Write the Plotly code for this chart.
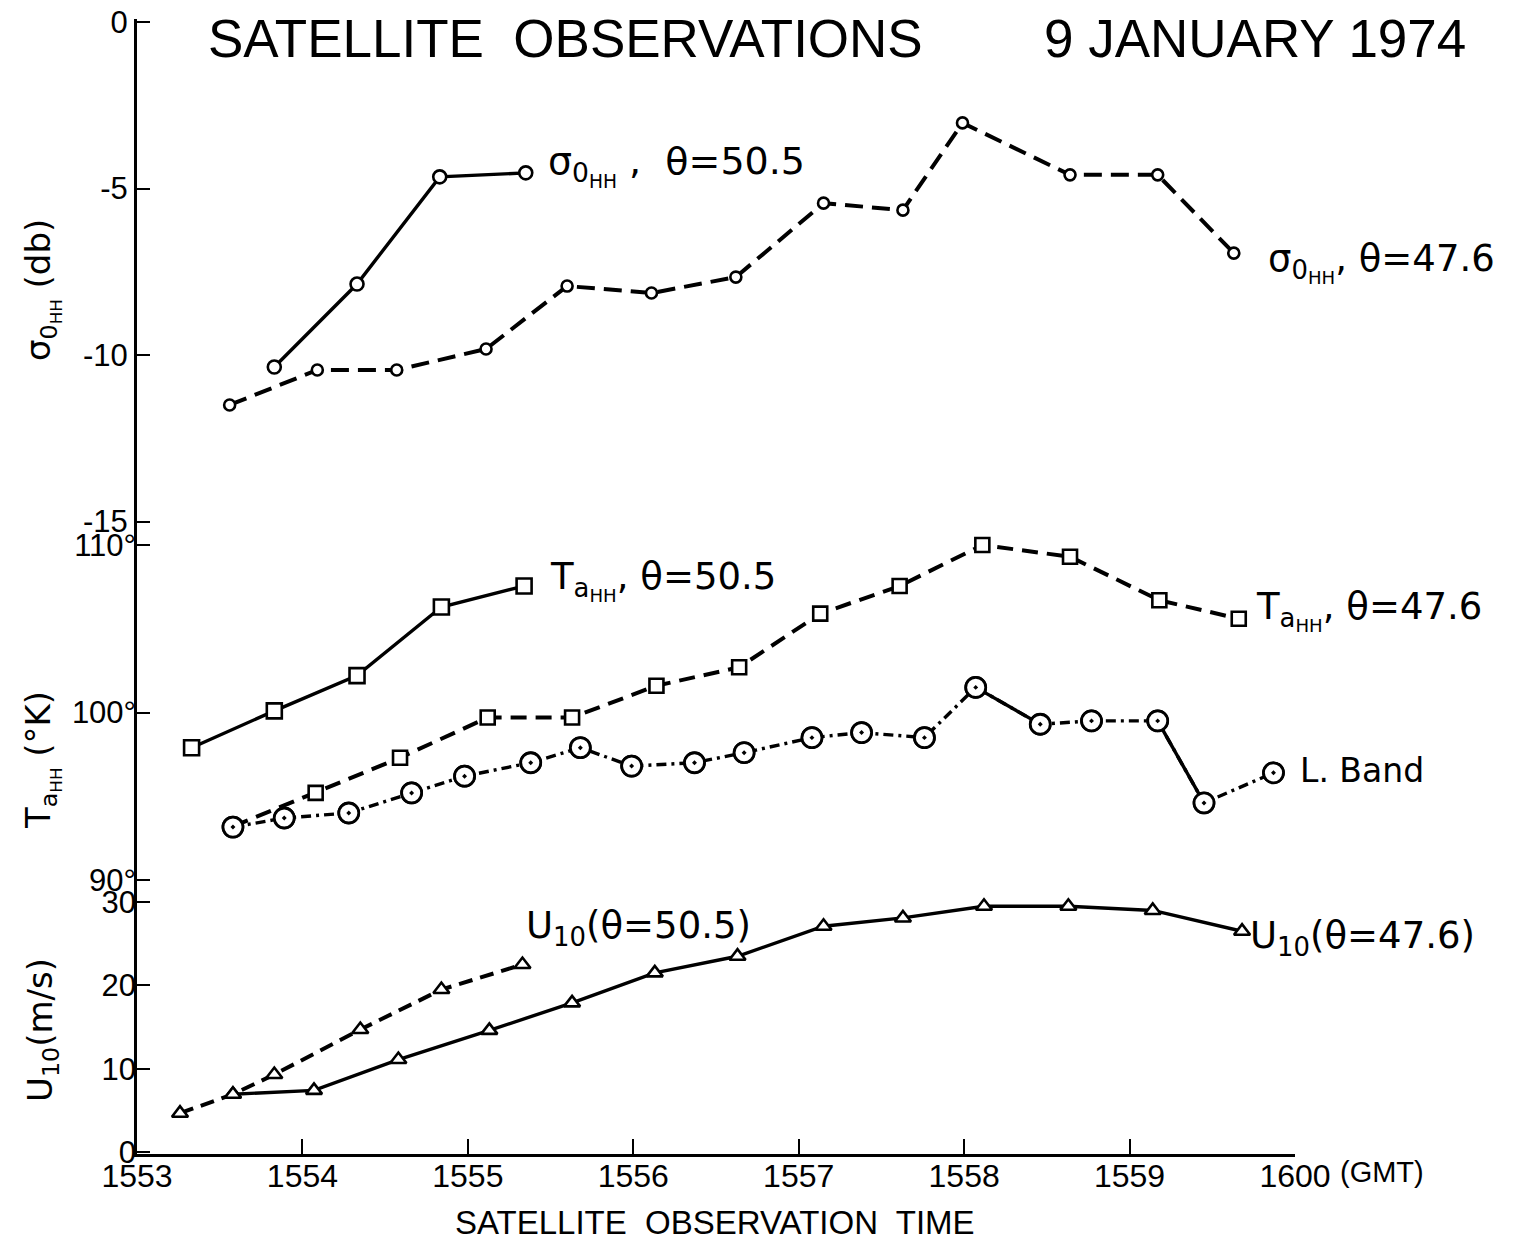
import plotly.graph_objects as go

# ---------------- data (minutes after 15:53 GMT) ----------------
tick_vals = [0, 1, 2, 3, 4, 5, 6, 7]
tick_text = ["1553", "1554", "1555", "1556", "1557", "1558", "1559", "1600"]

sig505_t = [0.83, 1.33, 1.83, 2.35]
sig505_v = [-10.36, -7.87, -4.65, -4.53]

sig476_t = [0.56, 1.09, 1.57, 2.11, 2.60, 3.11, 3.62, 4.15, 4.63, 4.99, 5.64, 6.17, 6.63]
sig476_v = [-11.5, -10.45, -10.45, -9.82, -7.93, -8.14, -7.66, -5.44, -5.65, -3.03, -4.59, -4.59, -6.94]

ta505_t = [0.33, 0.83, 1.33, 1.84, 2.34]
ta505_v = [97.9, 100.1, 102.2, 106.3, 107.55]

ta476_t = [0.58, 1.08, 1.59, 2.12, 2.63, 3.14, 3.64, 4.13, 4.61, 5.11, 5.64, 6.18, 6.66]
ta476_v = [93.2, 95.2, 97.3, 99.7, 99.7, 101.6, 102.7, 105.9, 107.55, 110.0, 109.3, 106.7, 105.6]

lband_t = [0.58, 0.89, 1.28, 1.66, 1.98, 2.38, 2.68, 2.99, 3.37, 3.67, 4.08, 4.38, 4.76, 5.07,
           5.46, 5.77, 6.17, 6.45, 6.87]
lband_v = [93.16, 93.7, 94.0, 95.2, 96.2, 97.0, 97.9, 96.8, 97.0, 97.6, 98.5, 98.8, 98.5, 101.5,
           99.3, 99.5, 99.5, 94.6, 96.4]
lband_solid_segments = [(13, 14), (16, 17)]

u505_t = [0.26, 0.58, 0.83, 1.35, 1.84, 2.33]
u505_v = [4.66, 6.93, 9.3, 14.7, 19.5, 22.5]

u476_t = [0.58, 1.07, 1.58, 2.13, 2.63, 3.13, 3.63, 4.15, 4.63, 5.12, 5.63, 6.14, 6.68]
u476_v = [6.93, 7.4, 11.1, 14.6, 17.9, 21.5, 23.5, 27.1, 28.1, 29.5, 29.5, 29.0, 26.5]

sig_ticks = [0, -5, -10, -15]
sig_ticktext = ["0", "-5", "-10", "-15"]
ta_ticks = [90, 100, 110]
ta_ticktext = ["90°", "100°", "110°"]
u_ticks = [0, 10, 20, 30]
u_ticktext = ["0", "10", "20", "30"]

# ---------------- layout geometry (screen pixels) ----------------
W, H = 1518, 1245
OFF = 8                              # page body margin
L, R, T, B = 137, 1295, 19, 1154     # plot area in screenshot pixels
PH = B - T

def yrange(v_ref, px_ref, px_per_unit):
    top = v_ref + (px_ref - T) / px_per_unit
    bot = v_ref - (B - px_ref) / px_per_unit
    return [bot, top]

def px(x):
    return (x - L) / (R - L)

def py(y):
    return (B - y) / PH

FONT = "Liberation Sans"
LFONT = "DejaVu Sans"
BLACK = "black"

fig = go.Figure()

def add(t, v, axis, dash, symbol, size, width=3.4):
    fig.add_trace(go.Scatter(
        x=t, y=v, yaxis=axis, mode="lines+markers",
        line=dict(color=BLACK, width=width, dash=dash),
        marker=dict(symbol=symbol, size=size,
                    color="white", line=dict(color=BLACK, width=2.6)),
        showlegend=False, hoverinfo="skip"))

# sigma
add(sig505_t, sig505_v, "y", "solid", "circle", 13)
add(sig476_t, sig476_v, "y", "18px,9px", "circle", 11, width=4)
# Ta
add(ta505_t, ta505_v, "y2", "solid", "square", 15)
add(ta476_t, ta476_v, "y2", "16px,9px", ["circle"] + ["square"] * (len(ta476_t) - 1), 14, width=4)
# L band
add(lband_t, lband_v, "y2", "10px,5px,3px,5px", "circle-dot", 20, width=3.4)
for a, b in lband_solid_segments:
    fig.add_trace(go.Scatter(x=lband_t[a:b + 1], y=lband_v[a:b + 1], yaxis="y2", mode="lines",
                             line=dict(color=BLACK, width=3.4), showlegend=False, hoverinfo="skip"))
fig.add_trace(go.Scatter(x=lband_t, y=lband_v, yaxis="y2", mode="markers",
                         marker=dict(symbol="circle-dot", size=20, color="white",
                                     line=dict(color=BLACK, width=2.8)),
                         showlegend=False, hoverinfo="skip"))
# U10
add(u505_t, u505_v, "y3", "14px,8px", "triangle-up", 14, width=4)
add(u476_t, u476_v, "y3", "solid", "triangle-up", 14)

tickfont = dict(family=FONT, size=31, color=BLACK)
common_y = dict(ticks="inside", ticklen=13, tickwidth=2, tickcolor=BLACK,
                showgrid=False, zeroline=False, tickfont=tickfont, tickmode="array",
                ticklabeloverflow="allow", automargin=False)

fig.update_layout(
    width=W, height=H,
    margin=dict(l=L - OFF, r=W - (R - OFF), t=T - OFF, b=H - (B - OFF), pad=0),
    paper_bgcolor="white", plot_bgcolor="white",
    xaxis=dict(range=[0, 7], tickmode="array", tickvals=tick_vals, ticktext=tick_text,
               ticks="inside", ticklen=15, tickwidth=2, tickcolor=BLACK,
               showline=True, linewidth=3, linecolor=BLACK, ticklabelstandoff=-8,
               ticklabeloverflow="allow", automargin=False,
               showgrid=False, zeroline=False, tickfont=dict(family=FONT, size=32, color=BLACK)),
    yaxis=dict(range=yrange(0, 22, 33.3), tickvals=sig_ticks, ticktext=sig_ticktext,
               showline=True, linewidth=3, linecolor=BLACK, **common_y),
    yaxis2=dict(range=yrange(110, 545, 16.75), tickvals=ta_ticks, ticktext=ta_ticktext,
                overlaying="y", side="left", anchor="x", showline=False, **common_y),
    yaxis3=dict(range=yrange(0, 1152, 8.33), tickvals=u_ticks, ticktext=u_ticktext,
                overlaying="y", side="left", anchor="x", showline=False, **common_y),
)

def ann(text, x, y, size=34, xanchor="left", angle=0, family=LFONT):
    fig.add_annotation(text=text, x=px(x), y=py(y), xref="paper", yref="paper",
                       xanchor=xanchor, yanchor="middle", showarrow=False, textangle=angle,
                       font=dict(family=family, size=size, color=BLACK))

ann("SATELLITE  OBSERVATIONS", 565, 38, size=53, xanchor="center", family=FONT)
ann("9 JANUARY 1974", 1255, 38, size=53, xanchor="center", family=FONT)

ann("σ<sub>0<sub>HH</sub></sub> ,  θ=50.5", 546, 166, size=38)
ann("σ<sub>0<sub>HH</sub></sub>, θ=47.6", 1266, 262, size=37)
ann("T<sub>a<sub>HH</sub></sub>, θ=50.5", 548, 580, size=37)
ann("T<sub>a<sub>HH</sub></sub>, θ=47.6", 1254, 610, size=37)
ann("L. Band", 1298, 770, size=33)
ann("U<sub>10</sub>(θ=50.5)", 524, 928, size=37)
ann("U<sub>10</sub>(θ=47.6)", 1248, 938, size=37)

ann("σ<sub>0<sub>HH</sub></sub> (db)", 42, 290, size=34, xanchor="center", angle=-90)
ann("T<sub>a<sub>HH</sub></sub> (°K)", 42, 760, size=34, xanchor="center", angle=-90)
ann("U<sub>10</sub>(m/s)", 42, 1030, size=34, xanchor="center", angle=-90)

ann("(GMT)", 1338, 1172, size=29, family=FONT)
ann("SATELLITE  OBSERVATION  TIME", 715, 1222, size=33, xanchor="center", family=FONT)

fig.write_html("out.html")
